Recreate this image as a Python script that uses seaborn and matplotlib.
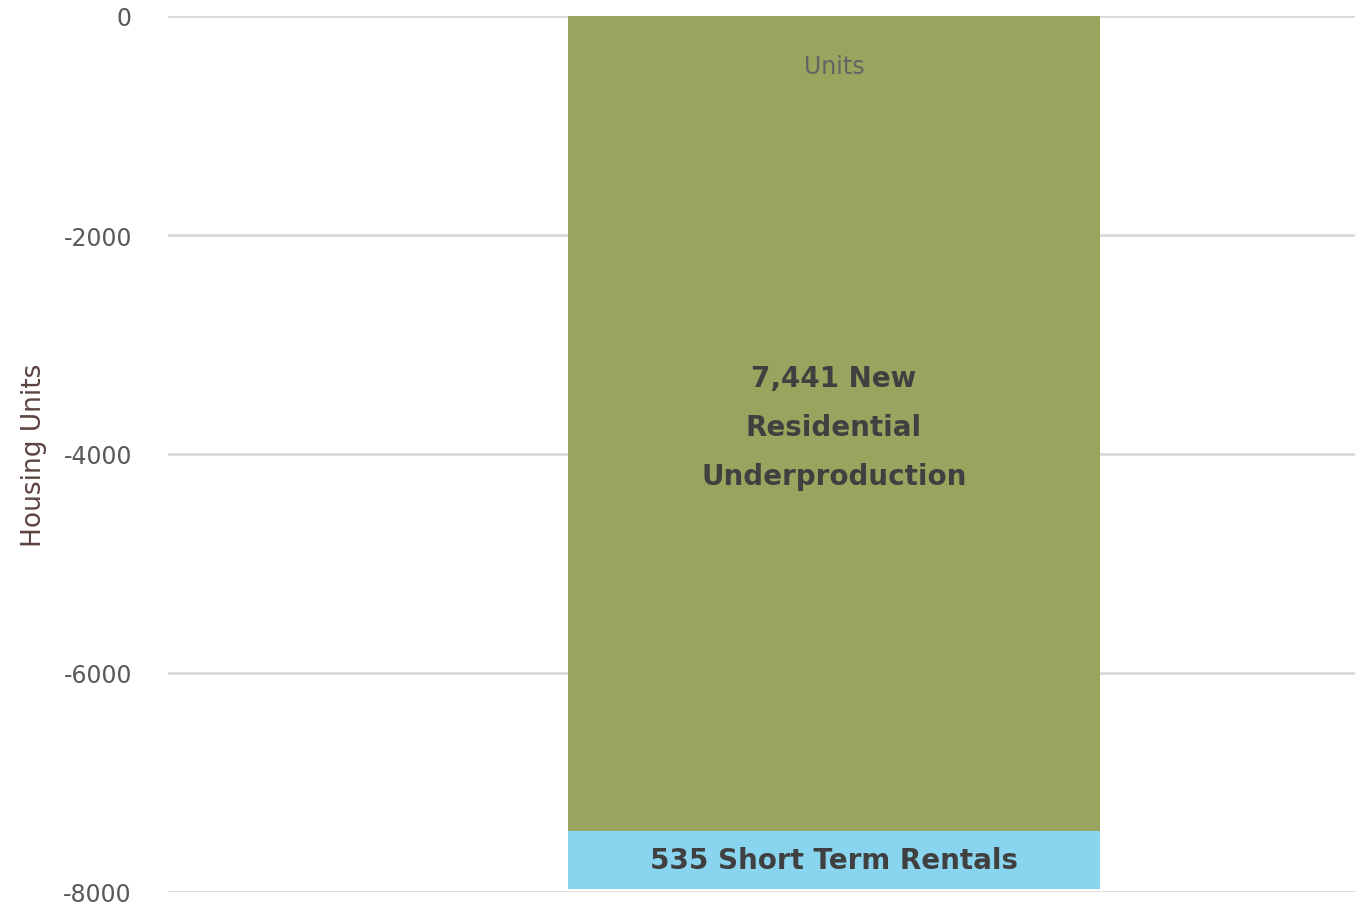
import matplotlib
matplotlib.use("Agg")
import matplotlib.pyplot as plt
import seaborn as sns
import pandas as pd

categories = ["Units"]
underproduction = [-7441]
short_term_rentals = [-535]
yticks = [0, -2000, -4000, -6000, -8000]
label_under = "7,441 New\nResidential\nUnderproduction"
label_str = "535 Short Term Rentals"

sns.set_theme(style="white")
plt.rcParams['font.family'] = ['DejaVu Sans']

df = pd.DataFrame({
    "cat": categories,
    "under": underproduction,
    "total": [u + s for u, s in zip(underproduction, short_term_rentals)],
})

fig = plt.figure(figsize=(13.55, 9.04), dpi=100)
ax = fig.add_axes([168/1355, (904-893)/904, 1 - 168/1355, (893-17)/904])

sns.barplot(data=df, x="cat", y="total", color="#89D5EF", saturation=1, width=0.8,
            linewidth=0, edgecolor="none", ax=ax, zorder=2)
sns.barplot(data=df, x="cat", y="under", color="#98A55F", saturation=1, width=0.8,
            linewidth=0, edgecolor="none", ax=ax, zorder=3)

ax.set_ylim(-8000, 0)
ax.set_xlim(-1.002, 0.784)
ax.set_yticks(yticks)
ax.set_yticklabels([str(t) for t in yticks])
ax.yaxis.grid(True, color="#D9D9D9", linewidth=2, zorder=0)
ax.set_axisbelow(True)
for s in ax.spines.values():
    s.set_visible(False)
ax.tick_params(axis="y", length=0, pad=26, labelsize=17, labelcolor="#595959")
ax.set_xticks([])
ax.set_xlabel("")
ax.set_ylabel("Housing Units", fontsize=19, color="#5B4340", labelpad=12)

u = underproduction[0]
s = short_term_rentals[0]
ax.text(0, u / 2 - 30, label_under, ha="center", va="center", fontsize=20,
        fontweight="bold", color="#404040", linespacing=1.95, zorder=5)
ax.text(0, u + s / 2, label_str, ha="center", va="center", fontsize=20,
        fontweight="bold", color="#404040", zorder=5)
ax.text(0, -460, categories[0], ha="center", va="center", fontsize=17,
        color="#636363", zorder=5)

fig.savefig("out.png", dpi=100)
